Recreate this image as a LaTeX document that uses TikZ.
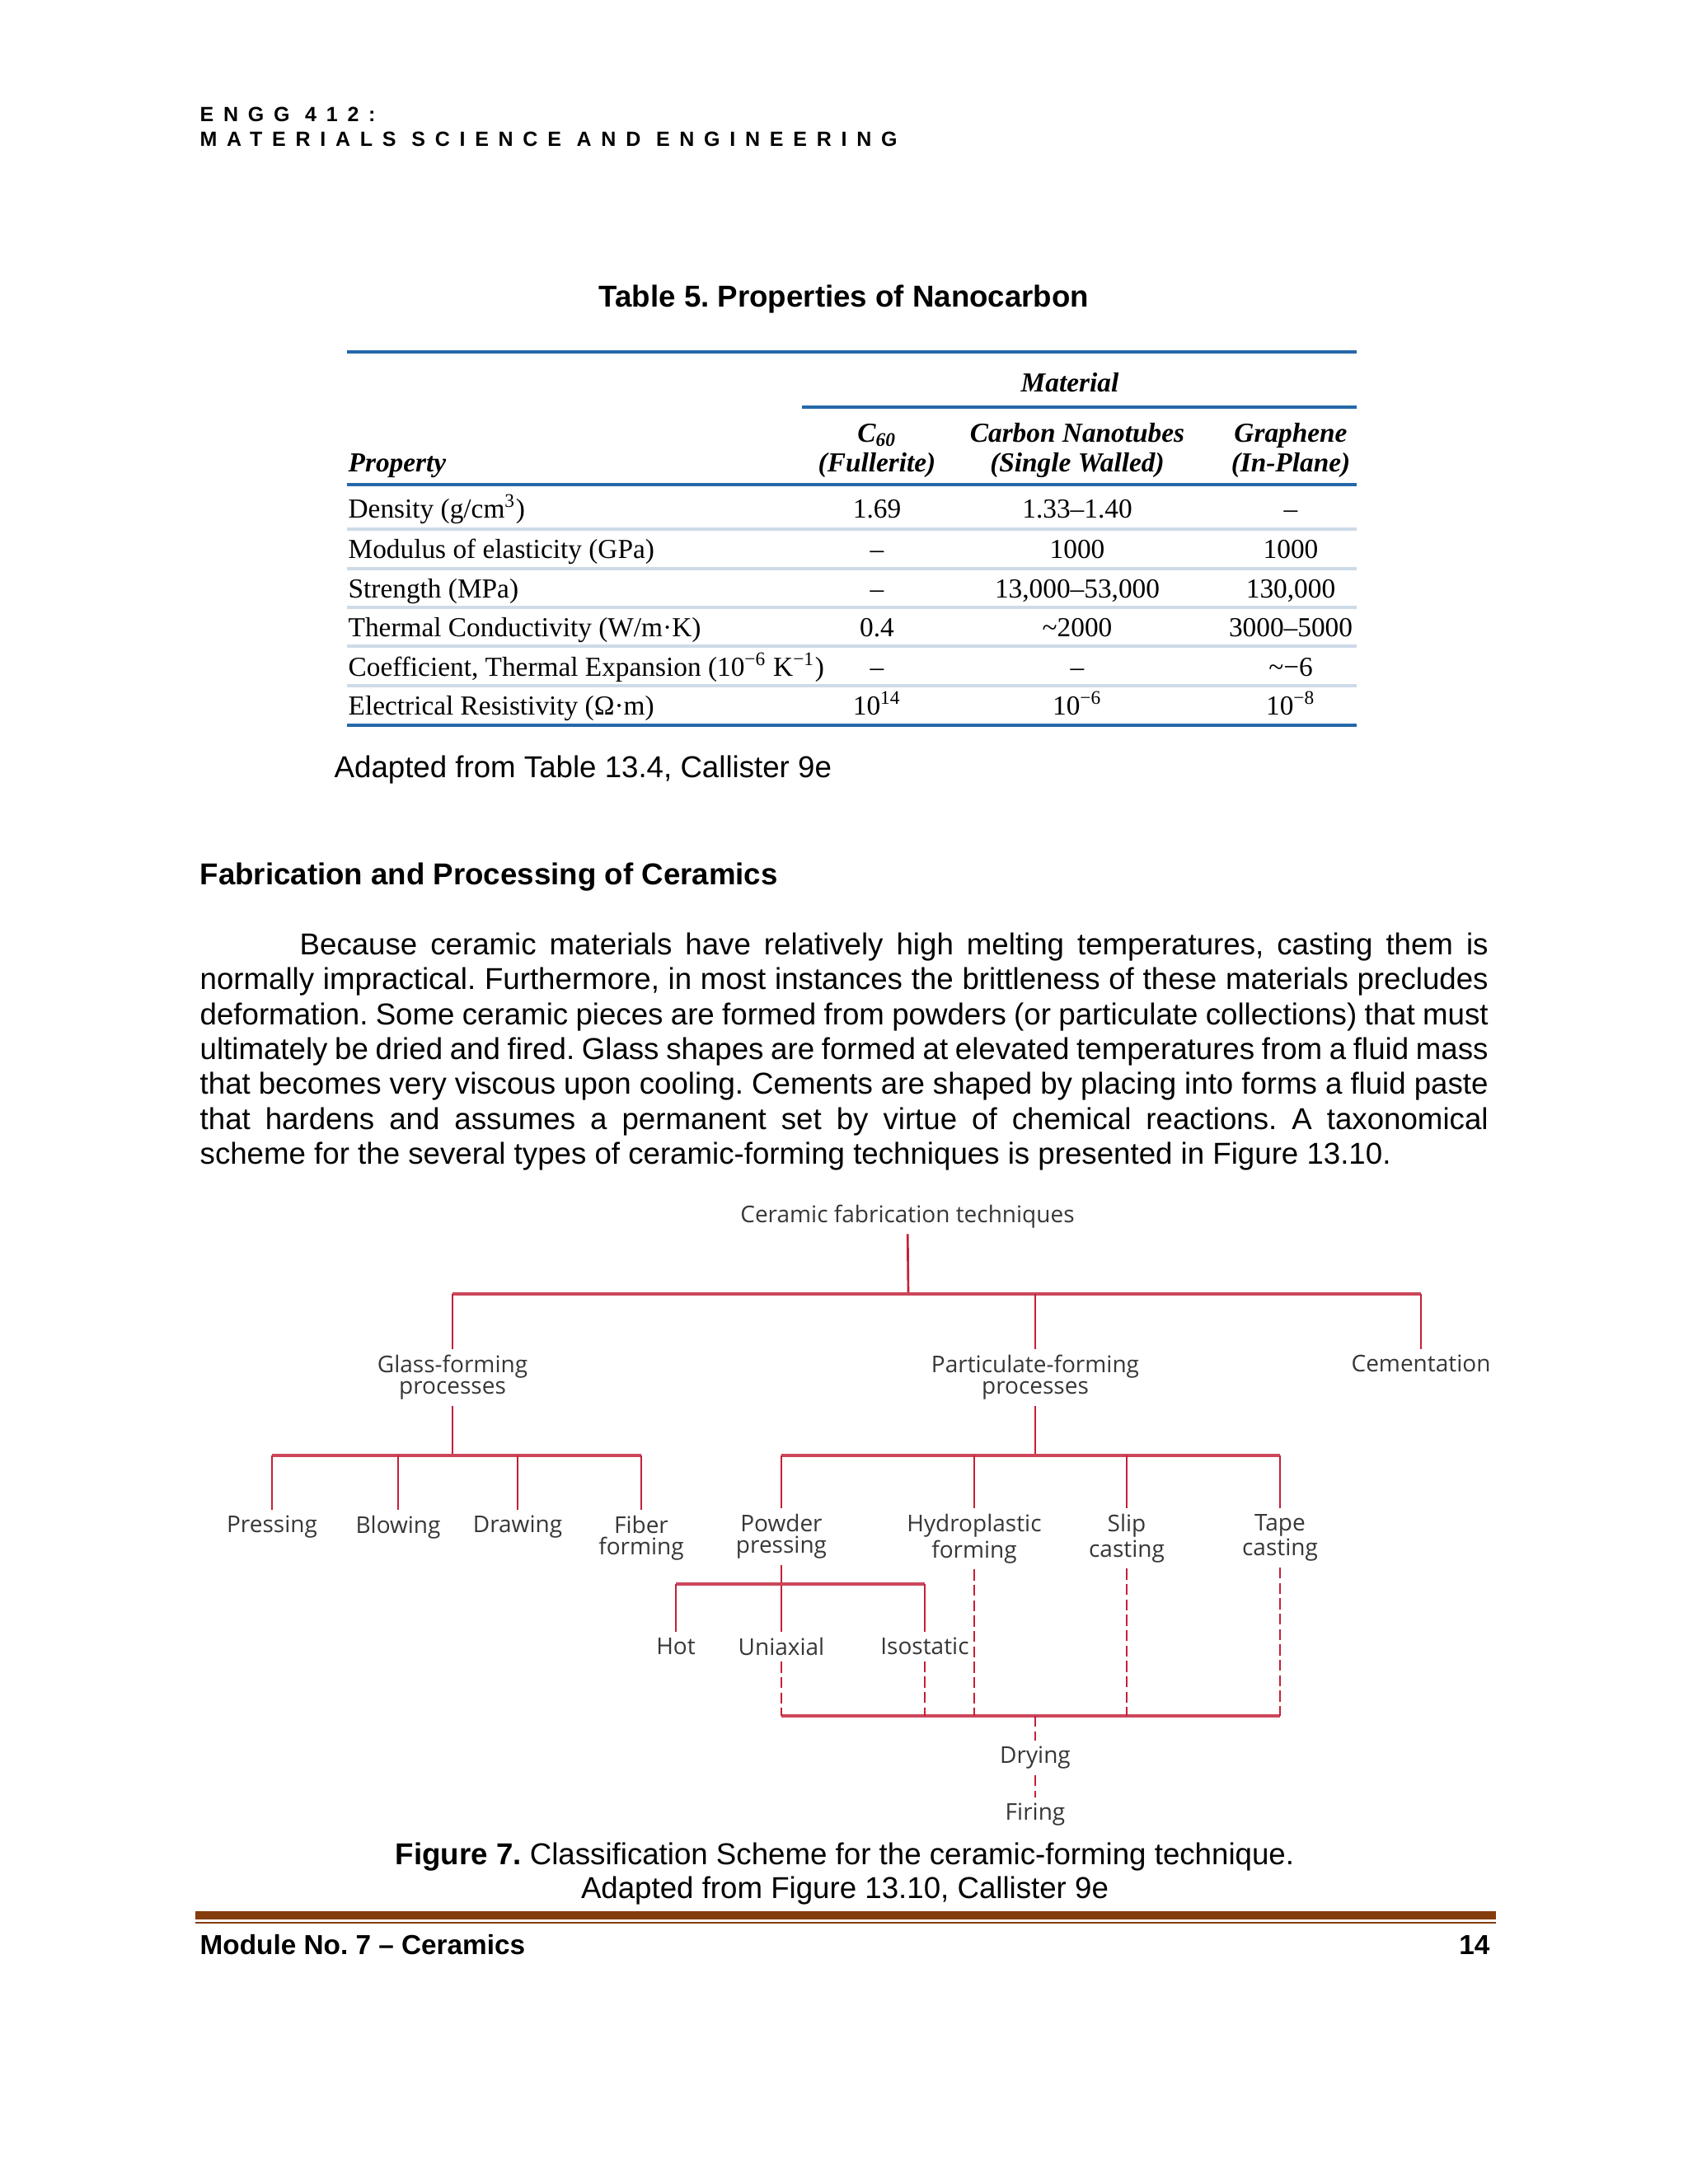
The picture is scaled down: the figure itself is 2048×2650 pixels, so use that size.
\documentclass[tikz,border=0pt]{standalone}
\usepackage{fontspec}
\setmainfont{Liberation Sans}
\newfontfamily\tabfont{Liberation Serif}
\newfontfamily\figfont{Open Sans}
\newfontfamily\hdrfont[LetterSpace=47]{Liberation Sans}
\usepackage{tikz}
\usetikzlibrary{positioning}
\definecolor{tblblue}{RGB}{37,104,170}
\definecolor{tblrule}{RGB}{205,218,232}
\definecolor{figred}{RGB}{196,32,56}
\definecolor{figbar}{RGB}{205,70,90}
\definecolor{footbrown}{RGB}{132,60,12}
\definecolor{figtext}{RGB}{55,55,55}
\frenchspacing

\begin{document}
\begin{tikzpicture}[
    x=0.010542cm, y=-0.010542cm,
    bodyline/.style={anchor=base west, inner sep=0, font=\fontsize{11}{12.65}\selectfont},
    tab/.style={inner sep=0, font=\tabfont\fontsize{10}{12}\selectfont},
    tabhead/.style={inner sep=0, anchor=base, font=\tabfont\bfseries\itshape\fontsize{10}{12}\selectfont},
    tabcell/.style={tab, anchor=base},
    tabprop/.style={tab, anchor=base west},
    lbl/.style={inner sep=2pt, align=center, text=figtext, font=\figfont\fontsize{8.4}{7.8}\selectfont},
    link/.style={figred, line width=0.8pt},
    linkbar/.style={figbar, line width=1.4pt},
    dashlink/.style={figred, line width=0.8pt, dash pattern=on 4pt off 1.6pt}
]
\fill[white] (0,0) rectangle (2048,2650);
\useasboundingbox (0,0) rectangle (2048,2650);

% Page header
\node[anchor=base west, inner sep=0, font=\hdrfont\bfseries\fontsize{7.5}{8}\selectfont] (hdra) at (242,147) {ENGG 412:};
\node[anchor=base west, inner sep=0, font=\hdrfont\bfseries\fontsize{7.5}{8}\selectfont] (hdrb) at (242,177) {MATERIALS SCIENCE AND ENGINEERING};

% Table 5
\node[anchor=base, inner sep=0, font=\bfseries\fontsize{11}{13}\selectfont] (tabtitle) at (1024,372) {Table 5. Properties of Nanocarbon};
\draw[tblblue, line width=1.3pt] (421,427) -- (1646,427);
\draw[tblblue, line width=1pt] (973,494) -- (1646,494);
\draw[tblblue, line width=1.3pt] (421,588) -- (1646,588);
\draw[tblrule, line width=1pt] (421,642) -- (1646,642);
\draw[tblrule, line width=1pt] (421,690) -- (1646,690);
\draw[tblrule, line width=1pt] (421,737) -- (1646,737);
\draw[tblrule, line width=1pt] (421,784) -- (1646,784);
\draw[tblrule, line width=1pt] (421,832) -- (1646,832);
\draw[tblblue, line width=1.3pt] (421,880) -- (1646,880);

\node[tabhead] (hmat) at (1298,475) {Material};
\node[tabhead, anchor=base west] (hprop) at (422,572) {Property};
\node[tabhead] (hc60) at (1064,536) {C\textsubscript{60}};
\node[tabhead] (hful) at (1064,572) {(Fullerite)};
\node[tabhead] (hcnt) at (1307,536) {Carbon Nanotubes};
\node[tabhead] (hswl) at (1307,572) {(Single Walled)};
\node[tabhead] (hgra) at (1566,536) {Graphene};
\node[tabhead] (hinp) at (1566,572) {(In-Plane)};

\node[tabprop] (pden) at (422,628) {Density (g/cm\textsuperscript{3})};
\node[tabcell] (aden) at (1064,628) {1.69};
\node[tabcell] (bden) at (1307,628) {1.33–1.40};
\node[tabcell] (cden) at (1566,628) {–};
\node[tabprop] (pmod) at (422,677) {Modulus of elasticity (GPa)};
\node[tabcell] (amod) at (1064,677) {–};
\node[tabcell] (bmod) at (1307,677) {1000};
\node[tabcell] (cmod) at (1566,677) {1000};
\node[tabprop] (pstr) at (422,725) {Strength (MPa)};
\node[tabcell] (astr) at (1064,725) {–};
\node[tabcell] (bstr) at (1307,725) {13,000–53,000};
\node[tabcell] (cstr) at (1566,725) {130,000};
\node[tabprop] (pcon) at (422,772) {Thermal Conductivity (W/m·K)};
\node[tabcell] (acon) at (1064,772) {0.4};
\node[tabcell] (bcon) at (1307,772) {\textasciitilde 2000};
\node[tabcell] (ccon) at (1566,772) {3000–5000};
\node[tabprop] (pexp) at (422,820) {Coefficient, Thermal Expansion (10\textsuperscript{−6} K\textsuperscript{−1})};
\node[tabcell] (aexp) at (1064,820) {–};
\node[tabcell] (bexp) at (1307,820) {–};
\node[tabcell] (cexp) at (1566,820) {\textasciitilde −6};
\node[tabprop] (pres) at (422,867) {Electrical Resistivity (Ω·m)};
\node[tabcell] (ares) at (1064,867) {10\textsuperscript{14}};
\node[tabcell] (bres) at (1307,867) {10\textsuperscript{−6}};
\node[tabcell] (cres) at (1566,867) {10\textsuperscript{−8}};

\node[bodyline] (tabsrc) at (405,943) {Adapted from Table 13.4, Callister 9e};

% Section text
\node[bodyline, font=\bfseries\fontsize{11}{13}\selectfont] (heading) at (242,1073) {Fabrication and Processing of Ceramics};
\node[bodyline] (line1) at (363,1158) {\makebox[432.6pt][s]{Because ceramic materials have relatively high melting temperatures, casting them is}};
\node[bodyline] (line2) at (242,1200) {\makebox[468.9pt][s]{normally impractical. Furthermore, in most instances the brittleness of these materials precludes}};
\node[bodyline] (line3) at (242,1243) {\makebox[468.9pt][s]{deformation. Some ceramic pieces are formed from powders (or particulate collections) that must}};
\node[bodyline] (line4) at (242,1285) {\makebox[468.9pt][s]{ultimately be dried and fired. Glass shapes are formed at elevated temperatures from a fluid mass}};
\node[bodyline] (line5) at (242,1327) {\makebox[468.9pt][s]{that becomes very viscous upon cooling. Cements are shaped by placing into forms a fluid paste}};
\node[bodyline] (line6) at (242,1370) {\makebox[468.9pt][s]{that hardens and assumes a permanent set by virtue of chemical reactions. A taxonomical}};
\node[bodyline] (line7) at (242,1412) {scheme for the several types of ceramic-forming techniques is presented in Figure 13.10.};

% Classification tree
\node[lbl] (root) at (1101,1476) {Ceramic fabrication techniques};
\coordinate (jroot) at (1102,1570);
\node[lbl, anchor=north] (glass) at (549,1637) {Glass-forming\\processes};
\node[lbl, anchor=north] (partic) at (1256,1637) {Particulate-forming\\processes};
\node[lbl, anchor=north] (cement) at (1724,1637) {Cementation};
\draw[link] (root) -- (jroot);
\draw[linkbar] (glass.north |- jroot) -- (cement.north |- jroot);
\draw[link] (glass) -- (glass |- jroot);
\draw[link] (partic) -- (partic |- jroot);
\draw[link] (cement) -- (cement |- jroot);

% Glass-forming branch
\coordinate (jglass) at (549,1766);
\node[lbl, anchor=north] (press) at (330,1832) {Pressing};
\node[lbl, anchor=north] (blow) at (483,1832) {Blowing};
\node[lbl, anchor=north] (drawn) at (628,1832) {Drawing};
\node[lbl, anchor=north] (fiber) at (778,1832) {Fiber\\forming};
\draw[link] (glass) -- (jglass);
\draw[linkbar] (press |- jglass) -- (fiber |- jglass);
\draw[link] (press) -- (press |- jglass);
\draw[link] (blow) -- (blow |- jglass);
\draw[link] (drawn) -- (drawn |- jglass);
\draw[link] (fiber) -- (fiber |- jglass);

% Particulate-forming branch
\coordinate (jpart) at (1256,1766);
\node[lbl, anchor=north] (powder) at (948,1830) {Powder\\pressing};
\node[lbl, anchor=north] (hydro) at (1182,1830) {Hydroplastic\\forming};
\node[lbl, anchor=north] (slip) at (1367,1830) {Slip\\casting};
\node[lbl, anchor=north] (tape) at (1553,1830) {Tape\\casting};
\draw[link] (partic) -- (jpart);
\draw[linkbar] (powder |- jpart) -- (tape |- jpart);
\draw[link] (powder) -- (powder |- jpart);
\draw[link] (hydro) -- (hydro |- jpart);
\draw[link] (slip) -- (slip |- jpart);
\draw[link] (tape) -- (tape |- jpart);

% Powder pressing
\coordinate (jpow) at (948,1922);
\node[lbl, anchor=north] (hot) at (820,1980) {Hot};
\node[lbl, anchor=north] (uni) at (948,1980) {Uniaxial};
\node[lbl, anchor=north] (iso) at (1122,1980) {Isostatic};
\draw[link] (powder) -- (uni);
\draw[linkbar] (hot |- jpow) -- (iso |- jpow);
\draw[link] (hot) -- (hot |- jpow);
\draw[link] (iso) -- (iso |- jpow);

% Drying and firing
\coordinate (jbot) at (1256,2082);
\node[lbl] (dry) at (1256,2133) {Drying};
\node[lbl] (fire) at (1256,2202) {Firing};
\draw[linkbar] (uni |- jbot) -- (tape |- jbot);
\draw[dashlink] (uni) -- (uni |- jbot);
\draw[dashlink] (iso) -- (iso |- jbot);
\draw[dashlink] (hydro) -- (hydro |- jbot);
\draw[dashlink] (slip) -- (slip |- jbot);
\draw[dashlink] (tape) -- (tape |- jbot);
\draw[dashlink] (jbot) -- (dry);
\draw[dashlink] (dry) -- (fire);

% Caption
\node[anchor=base, inner sep=0, font=\fontsize{11}{13}\selectfont] (figcap) at (1025,2262) {\textbf{Figure 7.} Classification Scheme for the ceramic-forming technique.};
\node[anchor=base, inner sep=0, font=\fontsize{11}{13}\selectfont] (figsrc) at (1025,2303) {Adapted from Figure 13.10, Callister 9e};

% Page footer
\draw[footbrown, line width=3pt] (237,2324) -- (1815,2324);
\draw[footbrown, line width=0.6pt] (237,2333) -- (1815,2333);
\node[anchor=base west, inner sep=0, font=\bfseries\fontsize{10}{12}\selectfont] (modname) at (242,2371) {Module No. 7 – Ceramics};
\node[anchor=base east, inner sep=0, font=\bfseries\fontsize{10}{12}\selectfont] (pagenum) at (1808,2371) {14};

\end{tikzpicture}
\end{document}
